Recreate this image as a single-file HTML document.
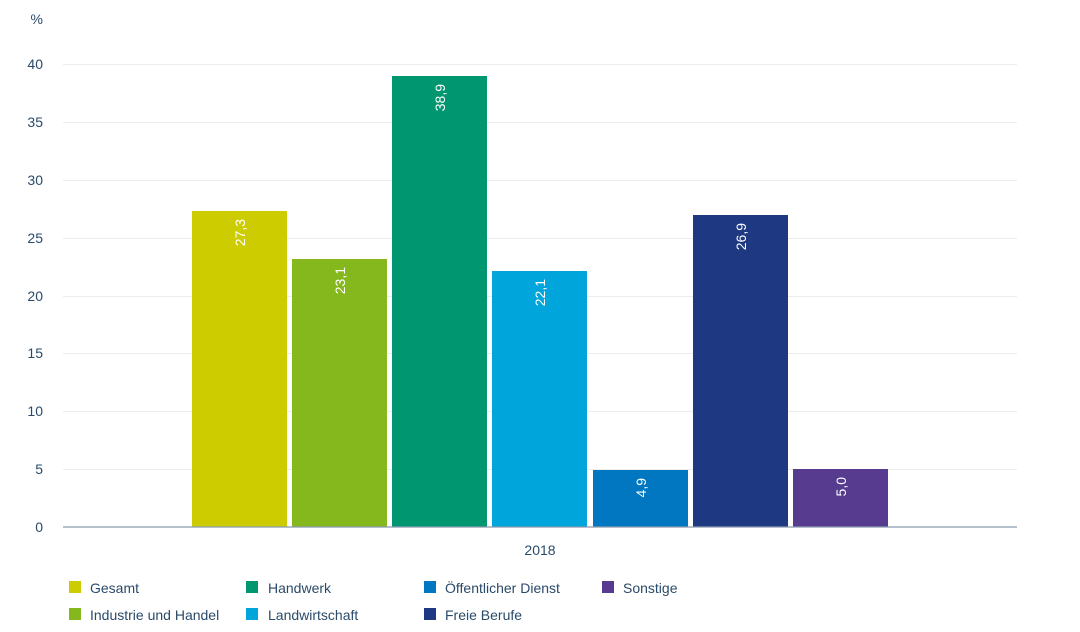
<!DOCTYPE html>
<html><head><meta charset="utf-8"><style>
html,body{margin:0;padding:0;background:#fff;}
svg{display:block;font-family:"Liberation Sans",sans-serif;}
</style></head><body>
<svg width="1080" height="632" viewBox="0 0 1080 632" xmlns="http://www.w3.org/2000/svg">
<g stroke="#ececec" stroke-width="1">
<line x1="63" x2="1017" y1="64.5" y2="64.5"/>
<line x1="63" x2="1017" y1="122.5" y2="122.5"/>
<line x1="63" x2="1017" y1="180.5" y2="180.5"/>
<line x1="63" x2="1017" y1="238.5" y2="238.5"/>
<line x1="63" x2="1017" y1="296.5" y2="296.5"/>
<line x1="63" x2="1017" y1="353.5" y2="353.5"/>
<line x1="63" x2="1017" y1="411.5" y2="411.5"/>
<line x1="63" x2="1017" y1="469.5" y2="469.5"/>
</g>
<g fill="#2a4a6a" font-size="14" text-anchor="end">
<text x="43" y="24">%</text>
<text x="43" y="69">40</text>
<text x="43" y="127">35</text>
<text x="43" y="185">30</text>
<text x="43" y="243">25</text>
<text x="43" y="301">20</text>
<text x="43" y="358">15</text>
<text x="43" y="416">10</text>
<text x="43" y="474">5</text>
<text x="43" y="532">0</text>
</g>
<rect x="192" y="211" width="95" height="316" fill="#cccc00"/>
<rect x="292" y="259" width="95" height="268" fill="#84b81c"/>
<rect x="392" y="76" width="95" height="451" fill="#009670"/>
<rect x="492" y="271" width="95" height="256" fill="#00a5dc"/>
<rect x="593" y="470" width="95" height="57" fill="#0077c0"/>
<rect x="693" y="215" width="95" height="312" fill="#1e3882"/>
<rect x="793" y="469" width="95" height="58" fill="#563b8f"/>
<line x1="63" x2="1017" y1="527" y2="527" stroke="#8a9aae" stroke-width="1.2"/>
<g fill="#fff" font-size="14" text-anchor="end">
<text transform="translate(245,219) rotate(-90)">27,3</text>
<text transform="translate(345,267) rotate(-90)">23,1</text>
<text transform="translate(445,84) rotate(-90)">38,9</text>
<text transform="translate(545,279) rotate(-90)">22,1</text>
<text transform="translate(646,478) rotate(-90)">4,9</text>
<text transform="translate(746,223) rotate(-90)">26,9</text>
<text transform="translate(846,477) rotate(-90)">5,0</text>
</g>
<text x="540" y="555" fill="#2a4a6a" font-size="14" text-anchor="middle">2018</text>
<g font-size="14" fill="#2a4a6a">
<rect x="69" y="581" width="12" height="12" fill="#cccc00"/><text x="90" y="593">Gesamt</text>
<rect x="69" y="608" width="12" height="12" fill="#84b81c"/><text x="90" y="620">Industrie und Handel</text>
<rect x="246" y="581" width="12" height="12" fill="#009670"/><text x="268" y="593">Handwerk</text>
<rect x="246" y="608" width="12" height="12" fill="#00a5dc"/><text x="268" y="620">Landwirtschaft</text>
<rect x="424" y="581" width="12" height="12" fill="#0077c0"/><text x="445" y="593">Öffentlicher Dienst</text>
<rect x="424" y="608" width="12" height="12" fill="#1e3882"/><text x="445" y="620">Freie Berufe</text>
<rect x="602" y="581" width="12" height="12" fill="#563b8f"/><text x="623" y="593">Sonstige</text>
</g>
</svg>
</body></html>
